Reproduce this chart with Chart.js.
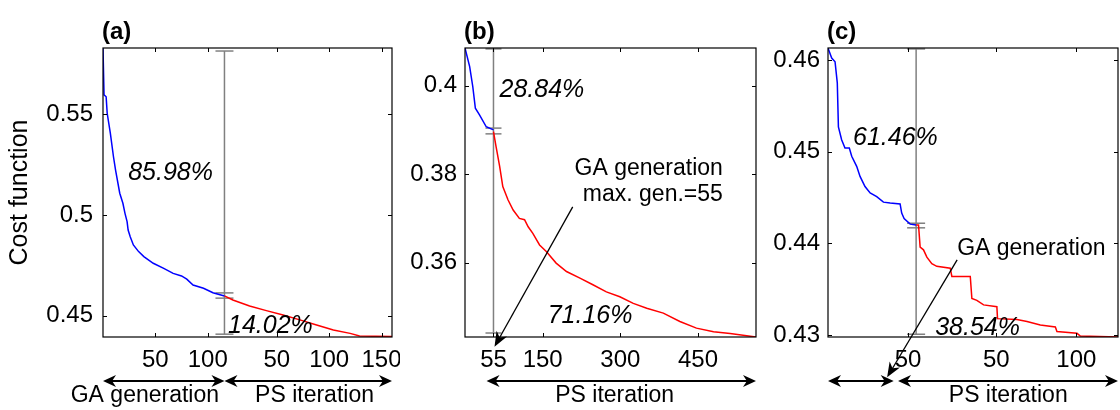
<!DOCTYPE html>
<html>
<head>
<meta charset="utf-8">
<script src="https://cdn.jsdelivr.net/npm/chart.js@4.4.0/dist/chart.umd.min.js"></script>
<style>
  body { margin: 0; background: #fff; }
  #wrap { position: relative; width: 1120px; height: 410px; }
  canvas { position: absolute; top: 0; }
</style>
</head>
<body>
<div id="wrap">
  <canvas id="ca" width="400" height="410" style="left:0px"></canvas>
  <canvas id="cb" width="370" height="410" style="left:400px"></canvas>
  <canvas id="cc" width="350" height="410" style="left:770px"></canvas>
</div>
<script>
// ---- panel (a) ----
const gaGenA = [0, 1, 3, 4, 7, 10, 12, 16, 19, 21, 23, 24, 26, 29, 34, 39, 48, 58, 67, 75, 80, 86, 96, 105, 116];
const gaCostA = [0.5828, 0.5596, 0.5587, 0.5505, 0.5406, 0.5289, 0.5223, 0.5108, 0.5058, 0.5008, 0.4967, 0.4925, 0.4892,
  0.4851, 0.4818, 0.4793, 0.4760, 0.4735, 0.4710, 0.4697, 0.4681, 0.4652, 0.4636, 0.4614, 0.4598];
const psIterA = [0, 8, 24, 40, 56, 72, 88, 104, 120, 129, 160];
const psCostA = [0.4598, 0.4578, 0.4548, 0.4525, 0.4503, 0.4479, 0.4454, 0.4429, 0.4412, 0.4399, 0.4396];
const errA = [0.5814, 0.4613, 0.4587, 0.4408];
const xTicksA = [50, 100, 166, 216, 266];
const xLabelsA = ['50', '100', '50', '100', '150'];
const yTicksA = [0.45, 0.5, 0.55];

// ---- panel (b) ----
const gaGenB = [0, 9, 15, 20, 28, 41, 55];
const gaCostB = [0.4085, 0.4043, 0.3998, 0.3949, 0.3934, 0.3907, 0.3900];
const psIterB = [0, 5, 12, 18, 28, 38, 50, 60, 67, 76, 89, 102, 121, 141, 167, 192, 218, 244, 270, 296, 328, 360, 392, 425, 457, 507];
const psCostB = [0.3896, 0.3862, 0.3817, 0.3772, 0.3742, 0.3719, 0.3700, 0.3697, 0.3681, 0.3666, 0.3640, 0.3625, 0.3599,
  0.3580, 0.3565, 0.3550, 0.3534, 0.3523, 0.3508, 0.3497, 0.3486, 0.3467, 0.3452, 0.3444, 0.3440, 0.3432];
const errB = [0.4083, 0.3904, 0.3891, 0.3441];
const xTicksB = [55, 150, 300, 450];
const xLabelsB = ['55', '150', '300', '450'];
const yTicksB = [0.36, 0.38, 0.4];

// ---- panel (c) ----
const gaGenC = [0, 2.3, 4.4, 5.8, 6.5, 8.5, 10.6, 13.3, 14.8, 17.9, 20, 23.1, 26.3, 30.4, 34.6, 38.8, 45, 46, 47.5, 51.3, 55];
const gaCostC = [0.4613, 0.4602, 0.4598, 0.4575, 0.4527, 0.4513, 0.4504, 0.4504, 0.4495, 0.4484, 0.4473, 0.4462, 0.4455,
  0.4451, 0.4445, 0.4444, 0.4443, 0.4433, 0.4427, 0.4421, 0.4420];
const psIterC = [0, 1.5, 2.5, 4.6, 6.7, 9.8, 12.9, 21.3, 22.3, 33.8, 34.8, 37.9, 42.1, 50.4, 50.8, 62.9, 69.2, 77.5, 86.9,
  87.9, 100.4, 102.5, 126];
const psCostC = [0.4420, 0.4420, 0.4396, 0.4393, 0.4385, 0.4378, 0.4375, 0.4373, 0.4364, 0.4364, 0.4340, 0.4338, 0.4333,
  0.4331, 0.4318, 0.4317, 0.4315, 0.4311, 0.4309, 0.4304, 0.4302, 0.4299, 0.4298];
const errC = [0.4612, 0.4422, 0.4417, 0.4301];
const xTicksC = [50, 105, 155];
const xLabelsC = ['50', '50', '100'];
const yTicksC = [0.43, 0.44, 0.45, 0.46];

const FONT = 'Liberation Sans, Arial, Helvetica, sans-serif';

function pts(xs, ys, off) {
  return xs.map((x, i) => ({ x: x + off, y: ys[i] }));
}

function arrowHead(ctx, x, y, ang, len, half) {
  ctx.beginPath();
  ctx.moveTo(x, y);
  ctx.lineTo(x - len * Math.cos(ang) + half * Math.sin(ang), y - len * Math.sin(ang) - half * Math.cos(ang));
  ctx.lineTo(x - len * 0.7 * Math.cos(ang), y - len * 0.7 * Math.sin(ang));
  ctx.lineTo(x - len * Math.cos(ang) - half * Math.sin(ang), y - len * Math.sin(ang) + half * Math.cos(ang));
  ctx.closePath();
  ctx.fill();
}

const decor = {
  id: 'decor',
  beforeDatasetsDraw(chart, args, o) {
    const { ctx } = chart;
    const xs = chart.scales.x, ys = chart.scales.y;
    const px = xs.getPixelForValue(o.errX);
    ctx.save();
    ctx.strokeStyle = '#808080';
    ctx.lineWidth = 1.5;
    ctx.beginPath();
    ctx.moveTo(px, ys.getPixelForValue(o.errY[0]));
    ctx.lineTo(px, ys.getPixelForValue(o.errY[o.errY.length - 1]));
    ctx.stroke();
    o.errY.forEach(v => {
      const py = ys.getPixelForValue(v);
      ctx.beginPath();
      ctx.moveTo(px - o.capW, py);
      ctx.lineTo(px + o.capW, py);
      ctx.stroke();
    });
    ctx.restore();
  },
  afterDraw(chart, args, o) {
    const { ctx, chartArea: a } = chart;
    const xs = chart.scales.x, ys = chart.scales.y;
    ctx.save();
    // box
    ctx.strokeStyle = '#000';
    ctx.lineWidth = 1.2;
    ctx.strokeRect(a.left, a.top, a.right - a.left, a.bottom - a.top);
    // inward ticks on all sides
    ctx.lineWidth = 1;
    xs.ticks.forEach(t => {
      const p = Math.round(xs.getPixelForValue(t.value)) + 0.5;
      ctx.beginPath();
      ctx.moveTo(p, a.bottom); ctx.lineTo(p, a.bottom - 4);
      ctx.moveTo(p, a.top); ctx.lineTo(p, a.top + 4);
      ctx.stroke();
    });
    ys.ticks.forEach(t => {
      const p = Math.round(ys.getPixelForValue(t.value)) + 0.5;
      ctx.beginPath();
      ctx.moveTo(a.left, p); ctx.lineTo(a.left + 4, p);
      ctx.moveTo(a.right, p); ctx.lineTo(a.right - 4, p);
      ctx.stroke();
    });
    // panel label
    ctx.fillStyle = '#000';
    ctx.font = 'bold 24px ' + FONT;
    ctx.textAlign = 'left';
    ctx.textBaseline = 'alphabetic';
    ctx.fillText(o.panel, a.left - 1, 39);
    // notes in data coordinates
    o.notes.forEach(n => {
      ctx.font = (n.italic ? 'italic 25px ' : '23px ') + FONT;
      ctx.textAlign = n.align;
      ctx.fillText(n.t, xs.getPixelForValue(n.x), ys.getPixelForValue(n.y));
    });
    // pointer arrows
    ctx.lineWidth = 1.3;
    o.pointers.forEach(p => {
      const x0 = xs.getPixelForValue(p.from[0]), y0 = ys.getPixelForValue(p.from[1]);
      const x1 = xs.getPixelForValue(p.to[0]), y1 = ys.getPixelForValue(p.to[1]);
      const ang = Math.atan2(y1 - y0, x1 - x0);
      ctx.beginPath();
      ctx.moveTo(x0, y0);
      ctx.lineTo(x1 - 8 * Math.cos(ang), y1 - 8 * Math.sin(ang));
      ctx.stroke();
      arrowHead(ctx, x1, y1, ang, 15, 6);
    });
    // double arrows under the axis
    ctx.lineWidth = 2;
    o.spans.forEach(s => {
      const x0 = xs.getPixelForValue(s[0]), x1 = xs.getPixelForValue(s[1]);
      ctx.beginPath();
      ctx.moveTo(x0 + 4, 381); ctx.lineTo(x1 - 4, 381);
      ctx.stroke();
      arrowHead(ctx, x0, 381, Math.PI, 13, 6);
      arrowHead(ctx, x1, 381, 0, 13, 6);
    });
    ctx.font = '23px ' + FONT;
    ctx.textAlign = 'center';
    o.spanLabels.forEach(l => {
      ctx.fillText(l.t, xs.getPixelForValue(l.x), 402);
    });
    ctx.restore();
  }
};

function makeChart(id, c) {
  return new Chart(document.getElementById(id), {
    type: 'line',
    data: {
      datasets: [
        { data: pts(c.gaX, c.gaY, 0), borderColor: '#0000ff', borderWidth: 1.5, pointRadius: 0, tension: 0 },
        { data: pts(c.psX, c.psY, c.split), borderColor: '#ff0000', borderWidth: 1.5, pointRadius: 0, tension: 0 }
      ]
    },
    options: {
      responsive: false,
      animation: false,
      layout: { padding: { top: 48, right: c.padRight, left: 0, bottom: 0 } },
      plugins: { legend: { display: false }, tooltip: { enabled: false }, decor: c.decor },
      scales: {
        x: {
          type: 'linear',
          min: 0,
          max: c.xMax,
          grid: { display: false, drawTicks: false },
          border: { display: false },
          afterBuildTicks: s => { s.ticks = c.xTicks.map(v => ({ value: v })); },
          afterFit: s => { s.height = 73; s.paddingLeft = 0; s.paddingRight = 0; },
          ticks: {
            autoSkip: false, maxRotation: 0, padding: 9, color: '#000',
            font: { family: FONT, size: 24 },
            callback: (v, i) => c.xLabels[i]
          }
        },
        y: {
          type: 'linear',
          min: c.yMin,
          max: c.yMax,
          grid: { display: false, drawTicks: false },
          border: { display: false },
          afterBuildTicks: s => { s.ticks = c.yTicks.map(v => ({ value: v })); },
          afterFit: s => { s.width = c.yWidth; s.paddingTop = 0; s.paddingBottom = 0; },
          title: c.yTitle ? {
            display: true, text: 'Cost function', color: '#000',
            font: { family: FONT, size: 25 }, padding: { top: 5 }
          } : { display: false },
          ticks: {
            autoSkip: false, padding: c.yPad, color: '#000',
            font: { family: FONT, size: 24 },
            callback: v => String(v)
          }
        }
      }
    },
    plugins: [decor]
  });
}

makeChart('ca', {
  gaX: gaGenA, gaY: gaCostA, psX: psIterA, psY: psCostA, split: 116,
  xMax: 276, yMin: 0.4394, yMax: 0.5829, xTicks: xTicksA, xLabels: xLabelsA, yTicks: yTicksA,
  yWidth: 103, padRight: 8, yTitle: true, yPad: 10,
  decor: {
    panel: '(a)', errX: 116, errY: errA, capW: 9,
    notes: [
      { t: '85.98%', x: 24, y: 0.5174, italic: true, align: 'left' },
      { t: '14.02%', x: 119.4, y: 0.4416, italic: true, align: 'left' }
    ],
    pointers: [],
    spans: [[0, 116], [116, 276]],
    spanLabels: [{ t: 'GA generation', x: 40 }, { t: 'PS iteration', x: 202 }]
  }
});

makeChart('cb', {
  gaX: gaGenB, gaY: gaCostB, psX: psIterB, psY: psCostB, split: 55,
  xMax: 562, yMin: 0.3432, yMax: 0.4085, xTicks: xTicksB, xLabels: xLabelsB, yTicks: yTicksB,
  yWidth: 65, padRight: 14, yTitle: false, yPad: 8,
  decor: {
    panel: '(b)', errX: 55, errY: errB, capW: 8,
    notes: [
      { t: '28.84%', x: 66.7, y: 0.3974, italic: true, align: 'left' },
      { t: '71.16%', x: 159.6, y: 0.3464, italic: true, align: 'left' },
      { t: 'GA generation', x: 498, y: 0.3797, italic: false, align: 'right' },
      { t: 'max. gen.=55', x: 498, y: 0.3740, italic: false, align: 'right' }
    ],
    pointers: [{ from: [208, 0.3726], to: [57, 0.3410] }],
    spans: [[41.6, 562]],
    spanLabels: [{ t: 'PS iteration', x: 289 }]
  }
});

makeChart('cc', {
  gaX: gaGenC, gaY: gaCostC, psX: psIterC, psY: psCostC, split: 55,
  xMax: 181, yMin: 0.4298, yMax: 0.4613, xTicks: xTicksC, xLabels: xLabelsC, yTicks: yTicksC,
  yWidth: 58, padRight: 2, yTitle: false, yPad: 8,
  decor: {
    panel: '(c)', errX: 55, errY: errC, capW: 9,
    notes: [
      { t: '61.46%', x: 15.6, y: 0.4507, italic: true, align: 'left' },
      { t: '38.54%', x: 66.9, y: 0.4300, italic: true, align: 'left' },
      { t: 'GA generation', x: 80.6, y: 0.4387, italic: false, align: 'left' }
    ],
    pointers: [{ from: [80.6, 0.4382], to: [36.9, 0.4254] }],
    spans: [[0, 41], [43.7, 181]],
    spanLabels: [{ t: 'PS iteration', x: 112.5 }]
  }
});
</script>
</body>
</html>
